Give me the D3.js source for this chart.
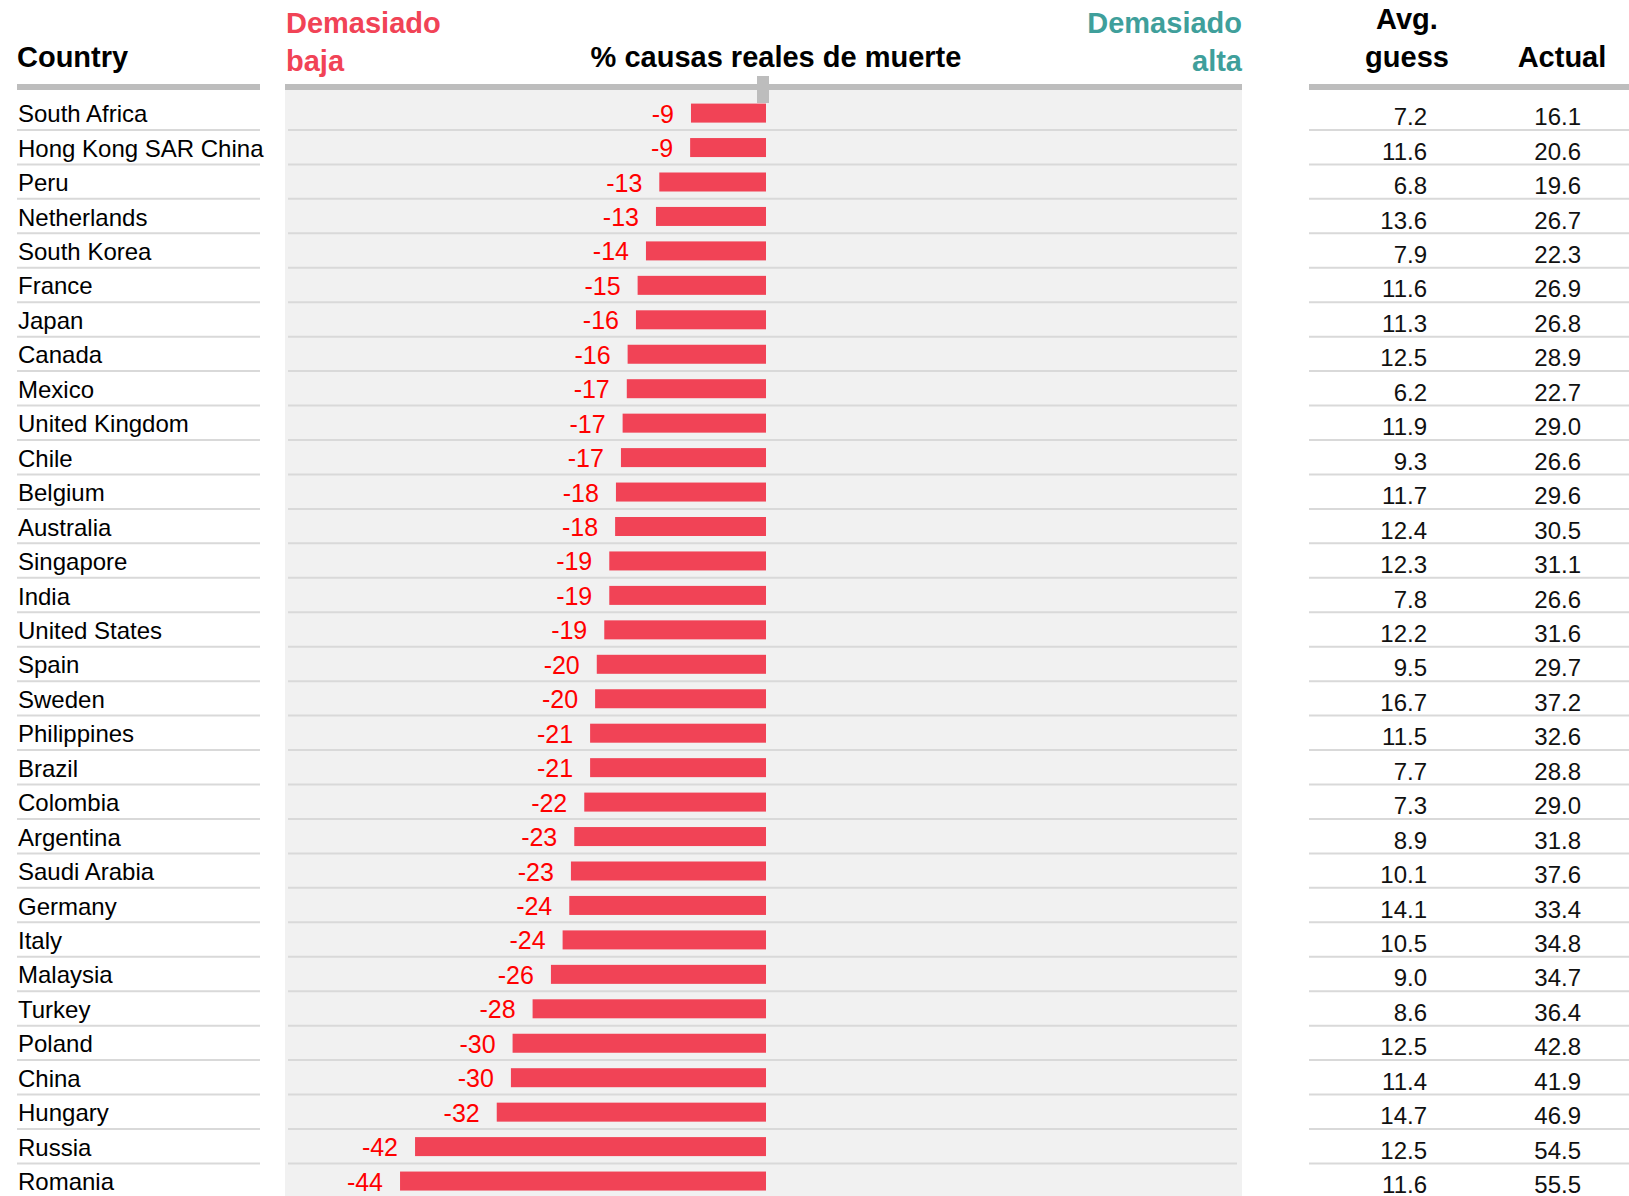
<!DOCTYPE html>
<html><head><meta charset="utf-8">
<script src="https://cdn.jsdelivr.net/npm/d3@7/dist/d3.min.js"></script>
<style>html,body{margin:0;padding:0;background:#fff;overflow:hidden}svg{display:block;font-family:"Liberation Sans",Arial,sans-serif}</style>
</head><body><svg id="c" width="1629" height="1196"></svg>
<script>
const countries = ["South Africa","Hong Kong SAR China","Peru","Netherlands","South Korea","France","Japan","Canada","Mexico","United Kingdom","Chile","Belgium","Australia","Singapore","India","United States","Spain","Sweden","Philippines","Brazil","Colombia","Argentina","Saudi Arabia","Germany","Italy","Malaysia","Turkey","Poland","China","Hungary","Russia","Romania"];
const diffValues = [-9.0,-9.1,-12.8,-13.2,-14.4,-15.4,-15.6,-16.6,-16.7,-17.2,-17.4,-18.0,-18.1,-18.8,-18.8,-19.4,-20.3,-20.5,-21.1,-21.1,-21.8,-23.0,-23.4,-23.6,-24.4,-25.8,-28.0,-30.4,-30.6,-32.3,-42.1,-43.9];
const diffLabels = ["-9","-9","-13","-13","-14","-15","-16","-16","-17","-17","-17","-18","-18","-19","-19","-19","-20","-20","-21","-21","-22","-23","-23","-24","-24","-26","-28","-30","-30","-32","-42","-44"];
const avgGuess = ["7.2","11.6","6.8","13.6","7.9","11.6","11.3","12.5","6.2","11.9","9.3","11.7","12.4","12.3","7.8","12.2","9.5","16.7","11.5","7.7","7.3","8.9","10.1","14.1","10.5","9.0","8.6","12.5","11.4","14.7","12.5","11.6"];
const actual = ["16.1","20.6","19.6","26.7","22.3","26.9","26.8","28.9","22.7","29.0","26.6","29.6","30.5","31.1","26.6","31.6","29.7","37.2","32.6","28.8","29.0","31.8","37.6","33.4","34.8","34.7","36.4","42.8","41.9","46.9","54.5","55.5"];
const xDomain = [-57.7, 57.1];

const svg = d3.select("#c");
const x = d3.scaleLinear().domain(xDomain).range([285, 1242]);
const rowH = 34.45;
const y = d3.scaleBand().domain(countries).range([97, 97 + countries.length * rowH]).padding(0);
const bw = y.bandwidth();
const barH = 19, barOff = 6.6;
const BAR = "#f14356", RED = "#ff0000", TEAL = "#3f9f9b", LINE = "#bdbdbd", SEP = "#d9d9d9";

// panel background
svg.append("rect").attr("x", x(xDomain[0])).attr("y", 84).attr("width", x(xDomain[1]) - x(xDomain[0])).attr("height", 1196 - 84).attr("fill", "#f1f1f1");

// header lines
[[17, 260], [x(xDomain[0]), x(xDomain[1])], [1309, 1629]].forEach(([a, b]) => {
  svg.append("rect").attr("x", a).attr("y", 84).attr("width", b - a).attr("height", 6).attr("fill", LINE);
});
// zero tick
svg.append("rect").attr("x", x(0) - 9).attr("y", 76).attr("width", 12).attr("height", 27).attr("fill", LINE);

// separators
const rows = svg.append("g");
countries.forEach((c, i) => {
  const yy = y(c) + bw - 1.5;
  [[17, 260], [288, 1237], [1309, 1629]].forEach(([a, b]) => {
    rows.append("line").attr("x1", a).attr("x2", b).attr("y1", yy).attr("y2", yy).attr("stroke", SEP).attr("stroke-width", 2);
  });
});

// headers
const hdr = svg.append("g").attr("font-weight", "bold").attr("font-size", 29);
hdr.append("text").attr("x", 17).attr("y", 67).attr("fill", "#000").text("Country");
hdr.append("text").attr("x", 286).attr("y", 33).attr("fill", BAR).text("Demasiado");
hdr.append("text").attr("x", 286).attr("y", 71).attr("fill", BAR).text("baja");
hdr.append("text").attr("x", 776).attr("y", 67).attr("text-anchor", "middle").attr("fill", "#000").text("% causas reales de muerte");
hdr.append("text").attr("x", 1242).attr("y", 33).attr("text-anchor", "end").attr("fill", TEAL).text("Demasiado");
hdr.append("text").attr("x", 1242).attr("y", 71).attr("text-anchor", "end").attr("fill", TEAL).text("alta");
hdr.append("text").attr("x", 1407).attr("y", 29).attr("text-anchor", "middle").attr("fill", "#000").text("Avg.");
hdr.append("text").attr("x", 1407).attr("y", 67).attr("text-anchor", "middle").attr("fill", "#000").text("guess");
hdr.append("text").attr("x", 1562).attr("y", 67).attr("text-anchor", "middle").attr("fill", "#000").text("Actual");

// country names
svg.append("g").selectAll("text").data(countries).join("text")
  .attr("x", 18).attr("y", d => y(d) + bw / 2 + 8).attr("font-size", 24).attr("fill", "#000").text(d => d);

// bars
svg.append("g").selectAll("rect").data(diffValues).join("rect")
  .attr("x", d => x(Math.min(0, d))).attr("width", d => Math.abs(x(d) - x(0)))
  .attr("y", (d, i) => y(countries[i]) + barOff).attr("height", barH).attr("fill", BAR);

// bar labels
svg.append("g").selectAll("text").data(diffValues).join("text")
  .attr("x", d => x(d) - 17).attr("y", (d, i) => y(countries[i]) + barOff + barH)
  .attr("text-anchor", "end").attr("font-size", 25).attr("fill", RED).text((d, i) => diffLabels[i]);

// table values
svg.append("g").selectAll("text").data(avgGuess).join("text")
  .attr("x", 1427).attr("y", (d, i) => y(countries[i]) + bw / 2 + 11)
  .attr("text-anchor", "end").attr("font-size", 24).attr("fill", "#111").text(d => d);
svg.append("g").selectAll("text").data(actual).join("text")
  .attr("x", 1581).attr("y", (d, i) => y(countries[i]) + bw / 2 + 11)
  .attr("text-anchor", "end").attr("font-size", 24).attr("fill", "#111").text(d => d);
</script></body></html>
